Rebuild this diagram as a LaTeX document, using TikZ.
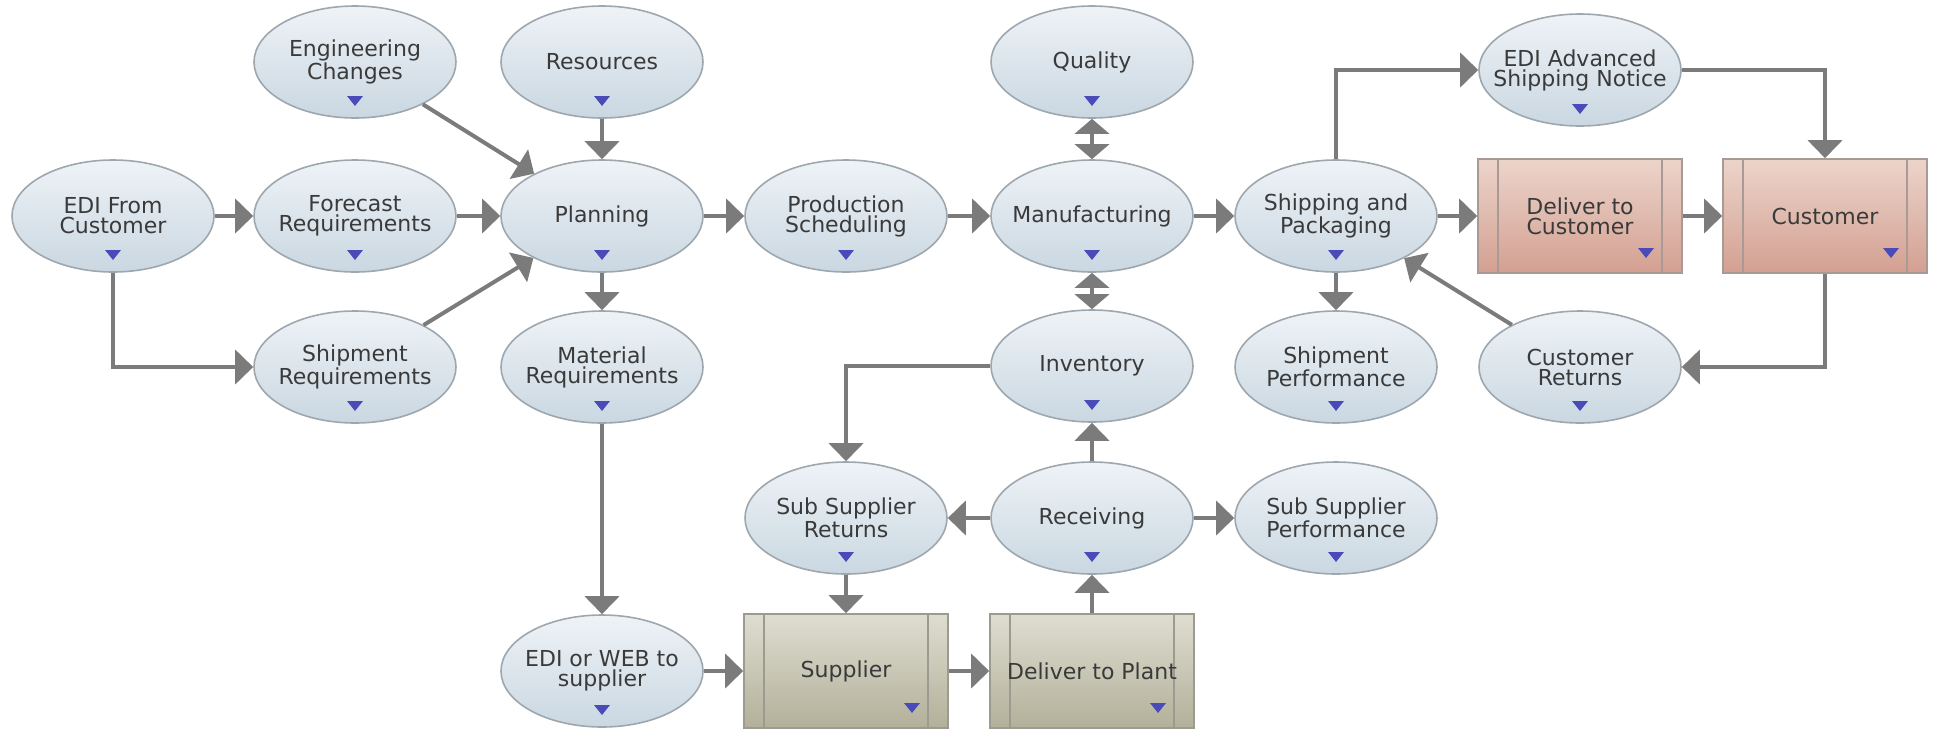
\documentclass[tikz,border=0pt]{standalone}
\usepackage{fontspec}
\setmainfont{DejaVu Sans}
\usetikzlibrary{arrows.meta,calc,shapes.geometric}
\definecolor{elltop}{HTML}{EEF3F7}
\definecolor{ellbot}{HTML}{CAD7E1}
\definecolor{ellline}{HTML}{9EA7AE}
\definecolor{txtgray}{HTML}{3A3A3A}
\definecolor{markblue}{HTML}{4A4AB8}
\definecolor{flowgray}{HTML}{7B7B7B}
\definecolor{redtop}{HTML}{ECD4CB}
\definecolor{redbot}{HTML}{D3A091}
\definecolor{redline}{HTML}{A99A95}
\definecolor{khakitop}{HTML}{DEDDD0}
\definecolor{khakibot}{HTML}{B3B09A}
\definecolor{khakiline}{HTML}{9C9B90}
\tikzset{
	nodetext/.style={inner sep=0pt, text=txtgray, align=center, font=\fontsize{11}{10}\selectfont},
	proc/.style={ellipse, minimum width=101pt, minimum height=56pt, inner sep=0pt,
		draw=ellline, line width=0.8pt, top color=elltop, bottom color=ellbot,
		label={[nodetext]center:#1},
		path picture={\fill[markblue] ($(path picture bounding box.center)+(-4pt,-17pt)$) -- ++(8pt,0pt) -- ++(-4pt,-5pt) -- cycle;}},
	party/.style={rectangle, minimum width=102pt, minimum height=57pt, inner sep=0pt,
		draw=#1line, line width=0.8pt, top color=#1top, bottom color=#1bot, nodetext,
		path picture={
			\draw[#1line, line width=0.8pt] ([xshift=10pt]path picture bounding box.north west) -- ([xshift=10pt]path picture bounding box.south west);
			\draw[#1line, line width=0.8pt] ([xshift=-10pt]path picture bounding box.north east) -- ([xshift=-10pt]path picture bounding box.south east);
			\fill[markblue] ($(path picture bounding box.south east)+(-22pt,12.5pt)$) -- ++(8pt,0pt) -- ++(-4pt,-5pt) -- cycle;}},
	flow/.style={draw=flowgray, line width=2pt, -{Triangle[length=9pt,width=17pt]}},
	both/.style={draw=flowgray, line width=2pt, {Triangle[length=7.5pt,width=17pt]}-{Triangle[length=7.5pt,width=17pt]}}
}

\begin{document}
\begin{tikzpicture}[x=0.5pt,y=-0.5pt]
	%%%%% START %%%%%
	\useasboundingbox (0,0) rectangle (1933,729);
	
	% top row
	\node[proc={Engineering\\Changes}] (engchg) at (355,62) {};
	\node[proc={Resources}] (resources) at (602,62) {};
	\node[proc={Quality}] (quality) at (1092,62) {};
	\node[proc={EDI Advanced\\Shipping Notice}] (asn) at (1580,70) {};
	
	% main row
	\node[proc={EDI From\\Customer}] (edicust) at (113,216) {};
	\node[proc={Forecast\\Requirements}] (forecast) at (355,216) {};
	\node[proc={Planning}] (planning) at (602,216) {};
	\node[proc={Production\\Scheduling}] (prodsched) at (846,216) {};
	\node[proc={Manufacturing}] (manuf) at (1092,216) {};
	\node[proc={Shipping and\\Packaging}] (shippack) at (1336,216) {};
	\node[party=red] (delcust) at (1580,216) {Deliver to\\Customer};
	\node[party=red] (customer) at (1825,216) {Customer};
	
	% third row
	\node[proc={Shipment\\Requirements}] (shipreq) at (355,367) {};
	\node[proc={Material\\Requirements}] (matreq) at (602,367) {};
	\node[proc={Inventory}] (inventory) at (1092,366) {};
	\node[proc={Shipment\\Performance}] (shipperf) at (1336,367) {};
	\node[proc={Customer\\Returns}] (custret) at (1580,367) {};
	
	% supply side
	\node[proc={Sub Supplier\\Returns}] (subret) at (846,518) {};
	\node[proc={Receiving}] (receiving) at (1092,518) {};
	\node[proc={Sub Supplier\\Performance}] (subperf) at (1336,518) {};
	\node[proc={EDI or WEB to\\supplier}] (edisup) at (602,671) {};
	\node[party=khaki] (supplier) at (846,671) {Supplier};
	\node[party=khaki] (delplant) at (1092,671) {Deliver to Plant};
	
	% connectors
	\draw[flow] (edicust) -- (forecast);
	\draw[flow] (edicust.south) |- (shipreq.west);
	\draw[flow] (forecast) -- (planning);
	\draw[flow] (shipreq) -- (planning);
	\draw[flow] (engchg) -- (planning);
	\draw[flow] (resources) -- (planning);
	\draw[flow] (planning) -- (matreq);
	\draw[flow] (planning) -- (prodsched);
	\draw[flow] (prodsched) -- (manuf);
	\draw[both] (quality) -- (manuf);
	\draw[both] (manuf) -- (inventory);
	\draw[flow] (manuf) -- (shippack);
	
	\draw[flow] (shippack.north) |- (asn.west);
	\draw[flow] (asn.east) -| (customer.north);
	\draw[flow] (shippack) -- (delcust);
	\draw[flow] (delcust) -- (customer);
	\draw[flow] (customer.south) |- (custret.east);
	\draw[flow] (custret) -- (shippack);
	\draw[flow] (shippack) -- (shipperf);
	
	\draw[flow] (inventory.west) -| (subret.north);
	\draw[flow] (receiving) -- (inventory);
	\draw[flow] (receiving) -- (subret);
	\draw[flow] (receiving) -- (subperf);
	\draw[flow] (subret) -- (supplier);
	\draw[flow] (matreq) -- (edisup);
	\draw[flow] (edisup) -- (supplier);
	\draw[flow] (supplier) -- (delplant);
	\draw[flow] (delplant) -- (receiving);
	
	%%%%% END %%%%%
\end{tikzpicture}
\end{document}
